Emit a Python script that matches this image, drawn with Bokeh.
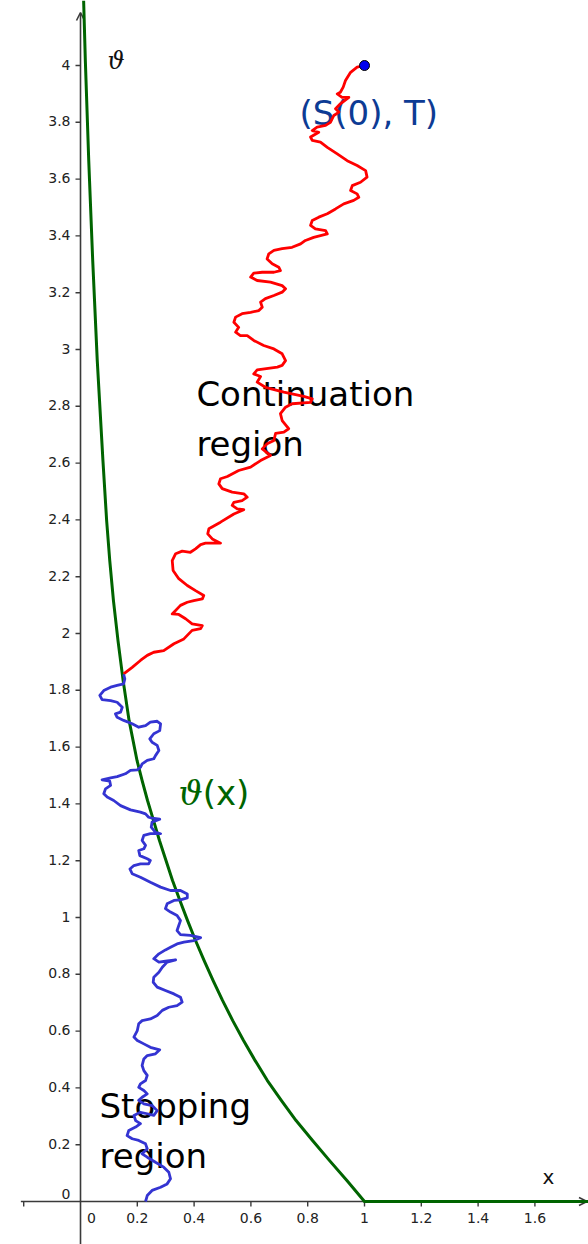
from bokeh.plotting import figure
from bokeh.models import Range1d, Arrow, OpenHead
from bokeh.core.properties import value
from bokeh.embed import file_html
from bokeh.resources import INLINE

# ---- data -------------------------------------------------------------
# free boundary theta(x)
green_x = [0.011, 0.017, 0.029, 0.043, 0.059, 0.079, 0.092, 0.103, 0.116, 0.132,
           0.150, 0.171, 0.199, 0.217, 0.236, 0.257, 0.278, 0.301, 0.324, 0.350,
           0.377, 0.405, 0.435, 0.467, 0.500, 0.536, 0.574, 0.615, 0.658, 0.707,
           0.759, 0.817, 0.877, 0.938, 1.000, 1.800]
green_y = [4.229, 4.018, 3.665, 3.313, 2.961, 2.609, 2.398, 2.257, 2.116, 1.975,
           1.835, 1.694, 1.553, 1.482, 1.412, 1.342, 1.271, 1.201, 1.130, 1.060,
           0.989, 0.919, 0.849, 0.778, 0.708, 0.637, 0.567, 0.496, 0.426, 0.356,
           0.285, 0.215, 0.144, 0.074, 0.000, 0.000]

# sample path while inside the continuation region
red_x = [1.000, 0.974, 0.951, 0.933, 0.925, 0.915, 0.904, 0.921, 0.945, 0.915,
         0.898, 0.910, 0.892, 0.880, 0.863, 0.833, 0.816, 0.839, 0.810, 0.816,
         0.845, 0.869, 0.904, 0.939, 0.974, 1.004, 1.009, 0.986, 0.957, 0.951,
         0.974, 0.980, 0.962, 0.927, 0.898, 0.869, 0.839, 0.816, 0.810, 0.827,
         0.863, 0.869, 0.845, 0.821, 0.792, 0.775, 0.745, 0.710, 0.681, 0.663,
         0.657, 0.675, 0.698, 0.704, 0.681, 0.640, 0.610, 0.599, 0.622, 0.669,
         0.710, 0.722, 0.710, 0.681, 0.651, 0.634, 0.640, 0.628, 0.599, 0.569,
         0.546, 0.540, 0.557, 0.546, 0.563, 0.587, 0.610, 0.645, 0.681, 0.710,
         0.722, 0.710, 0.693, 0.622, 0.610, 0.634, 0.622, 0.651, 0.716, 0.786,
         0.816, 0.810, 0.745, 0.722, 0.704, 0.710, 0.733, 0.716, 0.687, 0.681,
         0.657, 0.640, 0.669, 0.634, 0.599, 0.557, 0.517, 0.493, 0.487, 0.499,
         0.534, 0.575, 0.587, 0.569, 0.540, 0.534, 0.552, 0.575, 0.540, 0.493,
         0.452, 0.448, 0.464, 0.493, 0.440, 0.423, 0.405, 0.387, 0.358, 0.335,
         0.323, 0.326, 0.346, 0.376, 0.405, 0.434, 0.429, 0.399, 0.376, 0.352,
         0.323, 0.346, 0.370, 0.393, 0.429, 0.423, 0.393, 0.364, 0.329, 0.293,
         0.258, 0.235, 0.211, 0.182, 0.152]
red_y = [4.000, 3.994, 3.976, 3.947, 3.924, 3.906, 3.900, 3.888, 3.888, 3.865,
         3.848, 3.836, 3.824, 3.800, 3.789, 3.783, 3.771, 3.765, 3.748, 3.736,
         3.730, 3.712, 3.689, 3.665, 3.648, 3.630, 3.607, 3.589, 3.577, 3.560,
         3.548, 3.536, 3.525, 3.513, 3.495, 3.478, 3.466, 3.454, 3.437, 3.425,
         3.419, 3.407, 3.401, 3.395, 3.384, 3.372, 3.360, 3.355, 3.349, 3.337,
         3.319, 3.302, 3.290, 3.278, 3.272, 3.272, 3.269, 3.255, 3.243, 3.237,
         3.225, 3.214, 3.202, 3.190, 3.179, 3.167, 3.149, 3.137, 3.131, 3.126,
         3.114, 3.096, 3.078, 3.061, 3.049, 3.049, 3.032, 3.014, 3.002, 2.985,
         2.961, 2.944, 2.938, 2.928, 2.914, 2.905, 2.885, 2.867, 2.850, 2.835,
         2.826, 2.814, 2.809, 2.797, 2.774, 2.750, 2.721, 2.709, 2.705, 2.680,
         2.668, 2.650, 2.627, 2.609, 2.586, 2.574, 2.553, 2.545, 2.527, 2.510,
         2.498, 2.492, 2.480, 2.468, 2.462, 2.451, 2.439, 2.436, 2.421, 2.392,
         2.369, 2.351, 2.333, 2.318, 2.318, 2.313, 2.298, 2.286, 2.290, 2.281,
         2.257, 2.222, 2.193, 2.169, 2.151, 2.134, 2.122, 2.116, 2.110, 2.099,
         2.069, 2.067, 2.052, 2.034, 2.028, 2.017, 2.011, 1.981, 1.964, 1.940,
         1.934, 1.923, 1.905, 1.881, 1.858]

# sample path after hitting the boundary
blue_x = [0.152, 0.156, 0.152, 0.129, 0.106, 0.082, 0.068, 0.076, 0.106, 0.129,
          0.147, 0.141, 0.123, 0.129, 0.152, 0.182, 0.205, 0.229, 0.246, 0.270,
          0.282, 0.279, 0.258, 0.244, 0.252, 0.270, 0.276, 0.264, 0.258, 0.235,
          0.217, 0.211, 0.200, 0.176, 0.158, 0.129, 0.106, 0.076, 0.103, 0.106,
          0.088, 0.082, 0.094, 0.117, 0.141, 0.176, 0.211, 0.229, 0.240, 0.252,
          0.279, 0.252, 0.249, 0.264, 0.282, 0.246, 0.223, 0.217, 0.229, 0.223,
          0.205, 0.209, 0.235, 0.246, 0.240, 0.211, 0.188, 0.174, 0.182, 0.211,
          0.246, 0.282, 0.317, 0.352, 0.376, 0.376, 0.352, 0.329, 0.305, 0.299,
          0.317, 0.340, 0.352, 0.346, 0.340, 0.352, 0.387, 0.423, 0.399, 0.364,
          0.340, 0.317, 0.299, 0.276, 0.258, 0.276, 0.299, 0.335, 0.305, 0.288,
          0.276, 0.258, 0.256, 0.270, 0.299, 0.329, 0.352, 0.358, 0.340, 0.311,
          0.288, 0.270, 0.246, 0.217, 0.205, 0.200, 0.188, 0.200, 0.223, 0.246,
          0.279, 0.264, 0.235, 0.223, 0.217, 0.223, 0.235, 0.229, 0.211, 0.205,
          0.223, 0.235, 0.217, 0.205, 0.223, 0.252, 0.270, 0.258, 0.235, 0.211,
          0.188, 0.194, 0.211, 0.194, 0.170, 0.164, 0.182, 0.205, 0.229, 0.235,
          0.217, 0.235, 0.264, 0.293, 0.311, 0.317, 0.305, 0.282, 0.252, 0.235,
          0.229]
blue_y = [1.856, 1.840, 1.823, 1.817, 1.811, 1.799, 1.782, 1.767, 1.764, 1.758,
          1.740, 1.723, 1.717, 1.705, 1.694, 1.682, 1.670, 1.676, 1.688, 1.691,
          1.682, 1.658, 1.647, 1.629, 1.617, 1.606, 1.588, 1.570, 1.559, 1.553,
          1.541, 1.529, 1.520, 1.518, 1.506, 1.496, 1.492, 1.485, 1.480, 1.465,
          1.453, 1.436, 1.424, 1.412, 1.394, 1.379, 1.371, 1.365, 1.353, 1.350,
          1.346, 1.336, 1.318, 1.300, 1.295, 1.295, 1.289, 1.271, 1.254, 1.242,
          1.236, 1.218, 1.207, 1.201, 1.189, 1.189, 1.183, 1.171, 1.154, 1.142,
          1.124, 1.107, 1.095, 1.095, 1.083, 1.069, 1.062, 1.060, 1.048, 1.031,
          1.019, 1.007, 0.989, 0.972, 0.954, 0.940, 0.937, 0.929, 0.919, 0.913,
          0.907, 0.895, 0.886, 0.872, 0.855, 0.843, 0.846, 0.851, 0.843, 0.825,
          0.807, 0.790, 0.772, 0.755, 0.743, 0.731, 0.719, 0.702, 0.690, 0.684,
          0.673, 0.655, 0.643, 0.637, 0.626, 0.602, 0.579, 0.567, 0.555, 0.543,
          0.534, 0.520, 0.514, 0.502, 0.479, 0.461, 0.444, 0.426, 0.414, 0.402,
          0.391, 0.379, 0.367, 0.356, 0.344, 0.338, 0.320, 0.303, 0.309, 0.314,
          0.303, 0.285, 0.274, 0.262, 0.250, 0.232, 0.221, 0.215, 0.203, 0.186,
          0.168, 0.156, 0.138, 0.121, 0.103, 0.080, 0.062, 0.050, 0.039, 0.021,
          0.000]

# starting point (S(0), T)
start_x = [1.0]
start_y = [4.0]

# axis ticks and labels
x_ticks = [-0.2, 0.2, 0.4, 0.6, 0.8, 1.0, 1.2, 1.4, 1.6]
x_label_pos = [0.2, 0.4, 0.6, 0.8, 1.0, 1.2, 1.4, 1.6]
x_labels = ["0.2", "0.4", "0.6", "0.8", "1", "1.2", "1.4", "1.6"]
y_ticks = [0.2, 0.4, 0.6, 0.8, 1.0, 1.2, 1.4, 1.6, 1.8, 2.0,
           2.2, 2.4, 2.6, 2.8, 3.0, 3.2, 3.4, 3.6, 3.8, 4.0]
y_labels = ["0.2", "0.4", "0.6", "0.8", "1", "1.2", "1.4", "1.6", "1.8", "2",
            "2.2", "2.4", "2.6", "2.8", "3", "3.2", "3.4", "3.6", "3.8", "4"]

# ---- figure -----------------------------------------------------------
W, H = 588, 1244
X0, X1 = -0.2817, 1.7887
Y0, Y1 = -0.1514, 4.2289
PX = W / (X1 - X0)          # screen pixels per data unit (same on both axes)

p = figure(width=W, height=H, x_range=Range1d(X0, X1), y_range=Range1d(Y0, Y1),
           x_axis_type=None, y_axis_type=None, toolbar_location=None,
           output_backend="svg", min_border=0, outline_line_color=None,
           background_fill_color="white", border_fill_color="white")

AXIS = "#3a3a3a"
SANS = value("DejaVu Sans")
SERIF = value("DejaVu Serif")

# axes through the origin, with open arrow heads
p.add_layout(Arrow(x_start=-0.21, y_start=0, x_end=X1 - 1.5 / PX, y_end=0,
                   line_color=AXIS, line_width=1.6, level="underlay",
                   end=OpenHead(size=8, line_color=AXIS, line_width=1.6)))
p.add_layout(Arrow(x_start=0, y_start=Y0, x_end=0, y_end=Y1 - 12 / PX,
                   line_color=AXIS, line_width=1.6, level="underlay",
                   end=OpenHead(size=8, line_color=AXIS, line_width=1.6)))

tl = 5 / PX
p.segment(x0=x_ticks, y0=0, x1=x_ticks, y1=-tl, line_color=AXIS, line_width=1.4)
p.segment(x0=0, y0=y_ticks, x1=-tl, y1=y_ticks, line_color=AXIS, line_width=1.4)

tick_style = dict(text_font=SANS, text_font_size="14px", text_color="#222222")
p.text(x=x_label_pos, y=-16 / PX, text=x_labels, text_align="center",
       text_baseline="middle", **tick_style)
p.text(x=[11 / PX], y=[-16 / PX], text=["0"], text_align="center",
       text_baseline="middle", **tick_style)
p.text(x=-10 / PX, y=[t + 1 / PX for t in y_ticks], text=y_labels, text_align="right",
       text_baseline="middle", **tick_style)
p.text(x=[-10 / PX], y=[8 / PX], text=["0"], text_align="right",
       text_baseline="middle", **tick_style)

# axis names
p.text(x=[1.648], y=[0.088], text=["x"], text_align="center", text_baseline="alphabetic",
       text_font=SANS, text_font_size="20px", text_color="#111111")
p.text(x=[0.095], y=[4.017], text=["ϑ"], text_align="left", text_baseline="alphabetic",
       text_font=SERIF, text_font_style="italic", text_font_size="24px",
       text_color="#111111")

# region annotations (drawn beneath the paths)
region_style = dict(text_font=SANS, text_font_size="34px", text_color="black",
                    text_align="left", text_baseline="alphabetic")
p.text(x=[0.408, 0.408], y=[2.843, 2.667], text=["Continuation", "region"], **region_style)
p.text(x=[0.067, 0.067], y=[0.336, 0.160], text=["Stopping", "region"], **region_style)

p.text(x=[0.771], y=[3.834], text=["(S(0), T)"], text_font=SANS, text_font_size="34px",
       text_color="#0d3b94", text_align="left", text_baseline="alphabetic")
p.text(x=[0.345], y=[1.440], text=["ϑ"], text_font=SERIF, text_font_style="italic",
       text_font_size="34px", text_color="#006400", text_align="left",
       text_baseline="alphabetic")
p.text(x=[0.430], y=[1.440], text=["(x)"], text_font=SANS, text_font_size="34px",
       text_color="#006400", text_align="left", text_baseline="alphabetic")

# curves
p.line(green_x, green_y, line_color="#006400", line_width=3, line_join="round")
p.line(red_x, red_y, line_color="#ff0000", line_width=2.8, line_join="round")
p.line(blue_x, blue_y, line_color="#3434d2", line_width=2.8, line_join="round")
p.scatter(start_x, start_y, size=10, fill_color="#0000ee", line_color="black",
          line_width=1)

open("out.html", "w").write(file_html(p, INLINE))
